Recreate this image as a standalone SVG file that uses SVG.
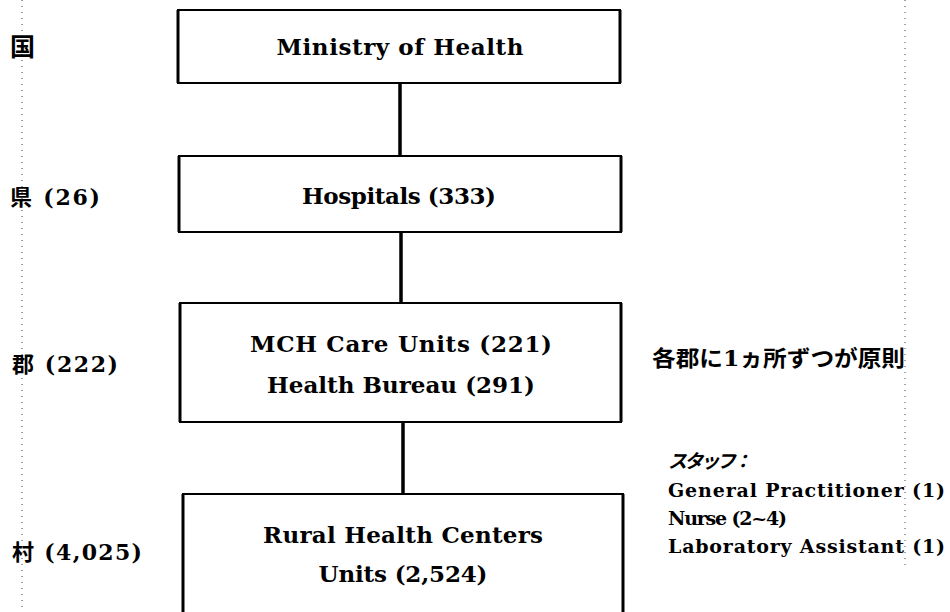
<svg xmlns="http://www.w3.org/2000/svg" width="950" height="612" viewBox="0 0 950 612">
<style>
.box{fill:#fff;stroke:#000;stroke-width:2}
.side{stroke:#000;stroke-width:3}
.conn{stroke:#000;stroke-width:3.5}
.t{font-family:"DejaVu Serif","Liberation Serif",serif;font-weight:bold;fill:#000}
.bt{font-size:23px;text-anchor:middle}
.lt{font-size:22px}
.st{font-size:19px}
.cjk{font-family:"DejaVu Serif","Noto Sans CJK JP",serif;font-weight:bold;fill:#000}
.guide{stroke:#444;stroke-width:1;stroke-dasharray:1 5;fill:none}
</style>
<rect width="950" height="612" fill="#fff"/>
<g id="guides">
<line class="guide" x1="22" y1="0" x2="22" y2="612"/>
<line class="guide" x1="905" y1="0" x2="905" y2="565"/>
</g>
<g id="connectors">
<line class="conn" x1="400" y1="83" x2="400" y2="156"/>
<line class="conn" x1="401" y1="232" x2="401" y2="303"/>
<line class="conn" x1="403" y1="422" x2="403" y2="494"/>
</g>
<g id="ministry">
<rect class="box" x="178" y="10" width="442" height="73"/>
<line class="side" x1="178" y1="10" x2="178" y2="83"/><line class="side" x1="620" y1="10" x2="620" y2="83"/>
<text class="t bt" x="400" y="55" textLength="247" lengthAdjust="spacing">Ministry of Health</text>
</g>
<g id="hospitals">
<rect class="box" x="179" y="156" width="442" height="76"/>
<line class="side" x1="179" y1="156" x2="179" y2="232"/><line class="side" x1="621" y1="156" x2="621" y2="232"/>
<text class="t bt" x="399" y="204" textLength="194" lengthAdjust="spacing">Hospitals (333)</text>
</g>
<g id="mch">
<rect class="box" x="180" y="303" width="441" height="119"/>
<line class="side" x1="180" y1="303" x2="180" y2="422"/><line class="side" x1="621" y1="303" x2="621" y2="422"/>
<text class="t bt" x="401" y="352" textLength="302" lengthAdjust="spacing">MCH Care Units (221)</text>
<text class="t bt" x="401" y="393" textLength="268" lengthAdjust="spacing">Health Bureau (291)</text>
</g>
<g id="rural">
<rect class="box" x="183" y="494" width="440" height="130"/>
<line class="side" x1="183" y1="494" x2="183" y2="612"/><line class="side" x1="623" y1="494" x2="623" y2="612"/>
<text class="t bt" x="403" y="543" textLength="280" lengthAdjust="spacing">Rural Health Centers</text>
<text class="t bt" x="403" y="582" textLength="169" lengthAdjust="spacing">Units (2,524)</text>
</g>
<g id="levels">
<text class="cjk" font-size="25" x="10" y="56">国</text>
<text class="cjk lt" x="10" y="205" textLength="90" lengthAdjust="spacing">県 (26)</text>
<text class="cjk lt" x="12" y="372" textLength="106" lengthAdjust="spacing">郡 (222)</text>
<text class="cjk lt" x="12" y="560" textLength="130" lengthAdjust="spacing">村 (4,025)</text>
</g>
<g id="notes">
<text class="cjk" font-size="22" x="652" y="366" textLength="253" lengthAdjust="spacingAndGlyphs">各郡に1ヵ所ずつが原則</text>
<text class="cjk" font-size="19" x="668" y="468" font-style="italic" textLength="84" lengthAdjust="spacing">スタッフ：</text>
<text class="t st" x="668" y="497" textLength="277" lengthAdjust="spacing">General Practitioner (1)</text>
<text class="t st" x="668" y="525" textLength="119" lengthAdjust="spacing">Nurse (2~4)</text>
<text class="t st" x="668" y="553" textLength="277" lengthAdjust="spacing">Laboratory Assistant (1)</text>
</g>
</svg>
